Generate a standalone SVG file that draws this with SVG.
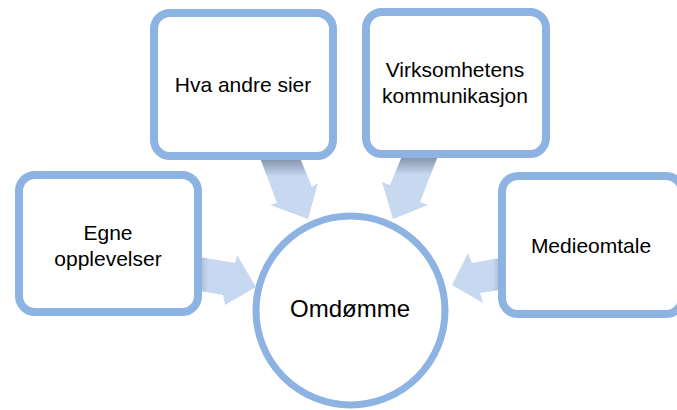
<svg xmlns="http://www.w3.org/2000/svg" width="677" height="410" viewBox="0 0 677 410">
<style>
.box{fill:#ffffff;stroke:#8db3e2;stroke-width:8}
.circ{fill:#ffffff;stroke:#8db3e2;stroke-width:7}
.lbl{font-family:"Liberation Sans",Arial,sans-serif;font-size:21px;fill:#000000;text-anchor:middle}
.arr{stroke:none}
</style>
<defs>
<linearGradient id="gDown" x1="0" y1="0" x2="0" y2="1">
<stop offset="0" stop-color="#7f8fa6"/>
<stop offset="0.3" stop-color="#c6d9f1"/>
<stop offset="1" stop-color="#c6d9f1"/>
</linearGradient>
<linearGradient id="gRight" x1="0" y1="0" x2="1" y2="0">
<stop offset="0" stop-color="#a9bad2"/>
<stop offset="0.15" stop-color="#c6d9f1"/>
<stop offset="1" stop-color="#c6d9f1"/>
</linearGradient>
<linearGradient id="gLeft" x1="1" y1="0" x2="0" y2="0">
<stop offset="0" stop-color="#a9bad2"/>
<stop offset="0.15" stop-color="#c6d9f1"/>
<stop offset="1" stop-color="#c6d9f1"/>
</linearGradient>
</defs>
<g id="connectors">
<polygon class="arr" fill="url(#gRight)" points="200,257 235,263 237,255 256,287 225,305 223,295 200,291"/>
<polygon class="arr" fill="url(#gDown)" points="260,158 300,158 312,187 318,183 308,219 270,205 277,203"/>
<polygon class="arr" fill="url(#gDown)" points="402,156 438,156 420,202 428,205 393,219 382,182 390,185"/>
<polygon class="arr" fill="url(#gLeft)" points="500,258 472,263 468,253 452,285 483,303 480,293 500,290"/>
</g>
<g id="node-egne">
<rect class="box" x="19" y="175" width="179" height="137" rx="16"/>
<text class="lbl" x="108" y="240">Egne</text>
<text class="lbl" x="108" y="266">opplevelser</text>
</g>
<g id="node-hva">
<rect class="box" x="154" y="13" width="179" height="143" rx="16"/>
<text class="lbl" x="243" y="92">Hva andre sier</text>
</g>
<g id="node-virksomhet">
<rect class="box" x="366" y="12" width="180" height="142" rx="16"/>
<text class="lbl" x="455" y="77">Virksomhetens</text>
<text class="lbl" x="455" y="103">kommunikasjon</text>
</g>
<g id="node-medie">
<rect class="box" x="502" y="176" width="180" height="138" rx="16"/>
<text class="lbl" x="591" y="253">Medieomtale</text>
</g>
<g id="node-omdomme">
<circle class="circ" cx="350.5" cy="310.5" r="94.5"/>
<text class="lbl" x="350" y="317" style="font-size:24px">Omdømme</text>
</g>
</svg>
